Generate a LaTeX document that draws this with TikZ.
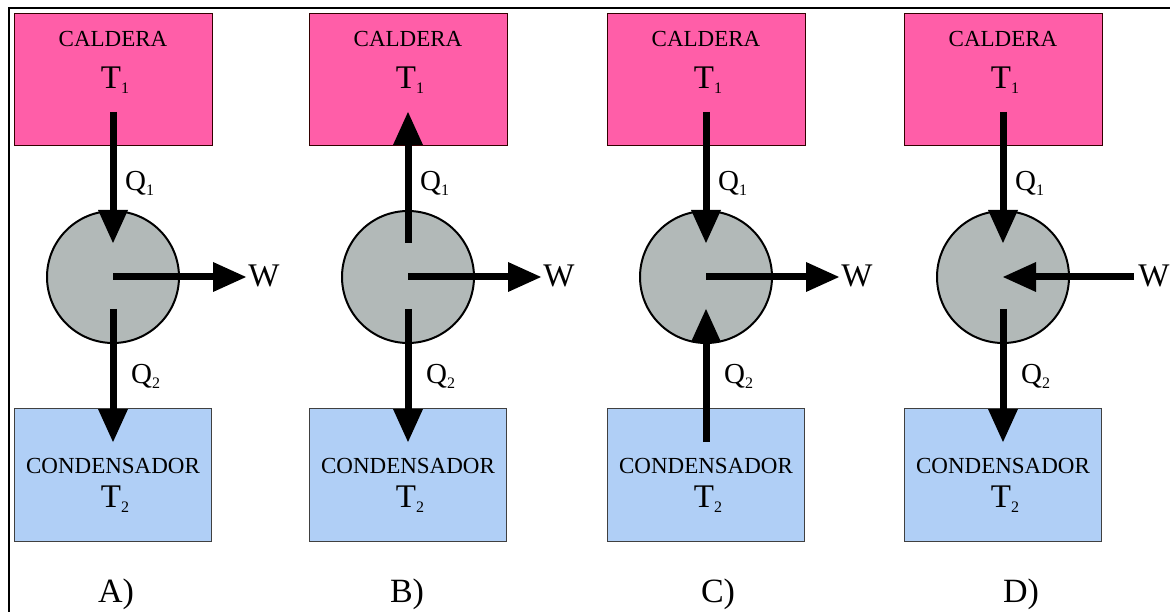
\documentclass[tikz,border=0pt]{standalone}
\usepackage{fontspec}
\setmainfont{Liberation Serif}
\usetikzlibrary{arrows.meta}
\definecolor{pinkbox}{RGB}{255,94,168}
\definecolor{bluebox}{RGB}{176,207,246}
\definecolor{graycirc}{RGB}{178,185,184}
\newcommand{\subs}[1]{{\fontsize{16}{16}\selectfont\raisebox{-5pt}{#1}}}
\begin{document}
\begin{tikzpicture}[x=1pt,y=-1pt,
  calbox/.style={draw=black!80!red,line width=1pt,fill=pinkbox,minimum width=198pt,minimum height=132pt,inner sep=0pt},
  conbox/.style={draw=black!75,line width=1pt,fill=bluebox,minimum width=197pt,minimum height=133pt,inner sep=0pt},
  engine/.style={circle,draw=black,line width=2pt,fill=graycirc,minimum size=132pt,inner sep=0pt},
  heat/.style={line width=7pt,-{Triangle[width=30pt,length=33pt,line width=0pt]}},
  small/.style={font=\fontsize{23}{26}\selectfont,inner sep=0pt},
  big/.style={font=\fontsize{33}{35}\selectfont,inner sep=0pt},
  qlab/.style={font=\fontsize{29}{31}\selectfont,inner sep=0pt,anchor=west},
  plab/.style={font=\fontsize{34}{36}\selectfont,inner sep=0pt}]
\useasboundingbox (0,0) rectangle (1170,612);
\draw[line width=1.5pt] (9,612) -- (9,8) -- (1170,8);
\foreach \p/\cx/\lx in {A/113/116,B/408/407,C/706/718,D/1003/1021}{
  \node[calbox] (cal\p) at (\cx,80) {};
  \node[conbox] (con\p) at (\cx,475) {};
  \node[small] (caltxt\p) at (\cx,39) {CALDERA};
  \node[big,anchor=base] (t1\p) at (\cx+2,89) {T\subs{1}};
  \node[small] (contxt\p) at (\cx,466) {CONDENSADOR};
  \node[big,anchor=base] (t2\p) at (\cx+2,507) {T\subs{2}};
  \node[engine] (eng\p) at (\cx,277) {};
  \node[plab] (lab\p) at (\lx,594) {\p)};
  \coordinate (top\p) at (\cx,112);
  \coordinate (up\p) at (\cx,243);
  \coordinate (dn\p) at (\cx,309);
  \coordinate (bot\p) at (\cx,442);
  \coordinate (ctr\p) at (\cx,277);
  \node[big] (w\p) at (\cx+151,276) {W};
  \coordinate (wend\p) at (\cx+133,277);
  \coordinate (wstart\p) at (\cx+131,277);
  \node[qlab] (q1\p) at (\cx+12,183) {Q\subs{1}};
  \node[qlab] (q2\p) at (\cx+18,376) {Q\subs{2}};
}
% A
\draw[heat] (topA) -- (upA);
\draw[heat] (ctrA) -- (wendA);
\draw[heat] (dnA) -- (botA);
% B
\draw[heat] (upB) -- (topB);
\draw[heat] (ctrB) -- (wendB);
\draw[heat] (dnB) -- (botB);
% C
\draw[heat] (topC) -- (upC);
\draw[heat] (ctrC) -- (wendC);
\draw[heat] (botC) -- (dnC);
% D
\draw[heat] (topD) -- (upD);
\draw[heat] (wstartD) -- (ctrD);
\draw[heat] (dnD) -- (botD);
\end{tikzpicture}
\end{document}
